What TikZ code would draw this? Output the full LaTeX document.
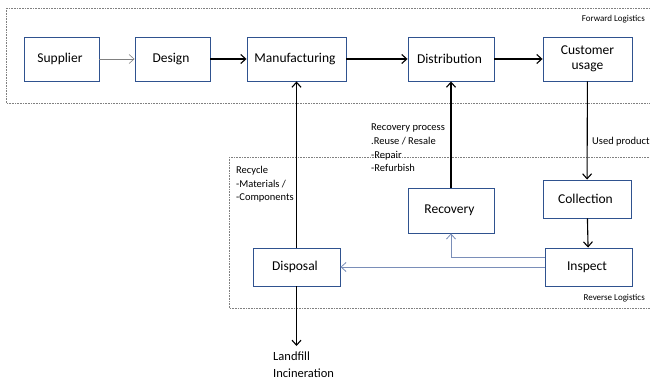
\documentclass[tikz,border=0pt]{standalone}
\usepackage{fontspec}
\setmainfont{Carlito}
\usetikzlibrary{arrows.meta}
\definecolor{boxblue}{RGB}{47,82,143}
\definecolor{linkblue}{RGB}{122,142,184}
\tikzset{
    stage/.style={draw=boxblue, line width=0.9pt, fill=white, align=center,
        font=\fontsize{13.5}{15}\selectfont, inner sep=0pt},
    flow/.style={line width=1.1pt, -{Straight Barb[length=5pt,width=9pt]}},
    backflow/.style={draw=linkblue, line width=0.8pt, -{Straight Barb[length=5pt,width=9pt]}},
    region/.style={draw=gray, densely dotted, line width=0.6pt},
    note/.style={align=left, anchor=north west, inner sep=0pt,
        font=\fontsize{10.5}{13.6}\selectfont},
    tag/.style={anchor=east, inner sep=0pt, font=\fontsize{9}{10}\selectfont}
}
\begin{document}
\begin{tikzpicture}[x=1pt, y=-1pt]
            \useasboundingbox (0, 0) rectangle (650, 385);
            \draw[region] (6, 8) rectangle (660, 103);
            \draw[region] (229, 157) rectangle (660, 308);
            \node[tag] (fwd) at (645, 19) {
                Forward Logistics
            };
            \node[tag] (rev) at (645, 298) {
                Reverse Logistics
            };
            \node[stage, minimum width=75, minimum height=44] (supplier) at (61.5, 59) {
                Supplier
            };
            \node[stage, minimum width=75, minimum height=44] (design) at (172.5, 59) {
                Design
            };
            \node[stage, minimum width=99, minimum height=44] (manuf) at (296.5, 59) {
                Manufacturing
            };
            \node[stage, minimum width=86, minimum height=44] (distrib) at (451, 59) {
                Distribution
            };
            \node[stage, minimum width=89, minimum height=44] (customer) at (587.5, 59) {
                Customer\\usage
            };
            \node[stage, minimum width=88, minimum height=38] (collect) at (587, 199) {
                Collection
            };
            \node[stage, minimum width=86, minimum height=45] (recovery) at (451, 210.5) {
                Recovery
            };
            \node[stage, minimum width=87, minimum height=38] (inspect) at (588.5, 267) {
                Inspect
            };
            \node[stage, minimum width=87, minimum height=38] (disposal) at (296.5, 267) {
                Disposal
            };
            \coordinate (dump) at (296.5, 346);
            \node[note] (used) at (592, 137) {
                Used product
            };
            \node[note] (process) at (371, 124) {
                Recovery process\\.Reuse / Resale\\-Repair\\-Refurbish
            };
            \node[note] (recycle) at (236, 166) {
                Recycle\\-Materials /\\-Components
            };
            \node[note, font=\fontsize{12.5}{17}\selectfont] (landfill) at (273, 352) {
                Landfill\\Incineration
            };
            \draw[gray, line width=0.6pt, -{Straight Barb[length=5pt,width=9pt]}] (supplier) -- (design);
            \draw[flow] (design) -- (manuf);
            \draw[flow] (manuf) -- (distrib);
            \draw[flow] (distrib) -- (customer);
            \draw[flow] (customer) -- (collect);
            \draw[flow] (collect) -- (inspect);
            \draw[backflow] ([yshift=10pt]inspect.west) -| (recovery);
            \draw[backflow] (inspect) -- (disposal);
            \draw[flow] (recovery) -- (distrib);
            \draw[flow] (disposal) -- (manuf);
            \draw[flow] (disposal) -- (dump);
        \end{tikzpicture}
\end{document}
